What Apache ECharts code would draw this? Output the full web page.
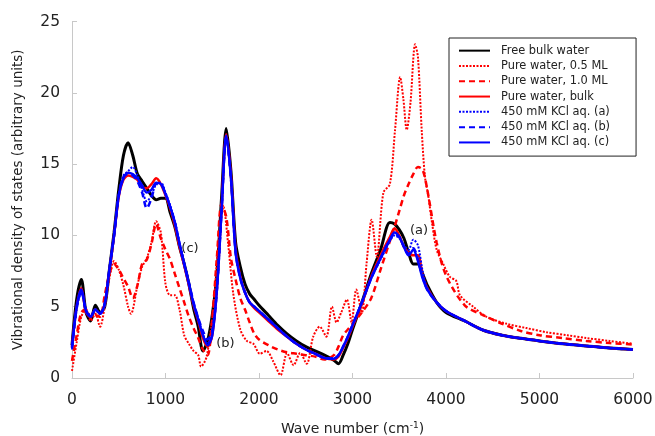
<!DOCTYPE html>
<html><head><meta charset="utf-8">
<script src="https://cdn.jsdelivr.net/npm/echarts@6/dist/echarts.min.js"></script>
<style>html,body{margin:0;padding:0;background:#fff}#c{width:655px;height:436px}</style>
</head><body><div id="c"></div>
<script>
const waveNumbers = [0,50,100,150,200,250,300,350,400,450,500,550,600,650,700,750,800,850,900,950,1000,1050,1100,1150,1200,1250,1300,1350,1400,1450,1500,1550,1600,1650,1700,1750,1800,1850,1900,1950,2000,2100,2200,2300,2400,2500,2600,2700,2800,2850,2900,2950,3000,3100,3200,3300,3400,3450,3500,3550,3600,3650,3700,3750,3800,3900,4000,4200,4400,4600,4800,5000,5250,5500,5750,6000];

const freeBulkWater = [2.3,5.5,6.9,4.6,4.0,5.1,4.6,5.0,7.6,10.2,
 13.2,15.6,16.5,15.6,14.3,13.8,13.3,12.8,12.5,12.6,
 12.6,11.6,10.6,9.2,8.0,6.6,4.9,3.6,1.9,2.6,
 4.4,7.3,12.7,17.5,14.5,9.5,7.8,6.6,5.9,5.5,
 5.1,4.4,3.7,3.1,2.6,2.2,1.9,1.6,1.25,
 1.0,1.6,2.4,
 3.4,5.3,7.3,9.0,10.9,
 10.8,10.4,9.8,8.8,8.0,8.0,7.3,6.5,
 5.3,4.6,
 4.0,3.35,3.0,2.78,2.6,
 2.4,2.25,2.1,2.0];

const pureBulk = [2.2,5.0,6.3,4.6,4.3,4.8,4.5,5.2,7.5,10.0,
 12.7,13.9,14.2,14.1,13.9,13.4,13.3,13.6,14.0,13.6,
 12.8,11.9,10.7,9.2,7.9,6.5,5.1,4.0,2.8,2.2,
 3.0,6.3,12.0,17.1,14.2,9.0,7.1,6.0,5.3,4.9,
 4.6,4.0,3.4,2.9,2.4,2.0,1.7,1.4,1.3,
 1.5,2.1,2.8,
 3.6,5.2,7.1,8.6,9.9,
 10.5,10.0,9.2,8.8,8.6,8.6,7.2,6.3,
 5.3,4.7,
 4.0,3.35,3.0,2.78,2.6,
 2.4,2.25,2.1,2.0];

const pure10ML = [1.2,3.0,4.6,4.8,4.2,4.4,4.3,5.8,7.3,8.0,
 7.6,7.0,6.4,5.6,6.5,8.0,8.3,9.4,10.8,9.8,
 9.0,8.3,7.3,6.3,5.3,4.3,3.5,2.8,2.0,1.6,
 4.2,8.5,12.2,11.3,8.4,6.9,5.6,4.8,3.9,3.1,
 2.7,2.3,2.0,1.8,1.7,1.6,1.5,1.3,1.6,
 2.2,3.0,3.4,
 3.8,4.6,5.6,7.6,9.6,
 10.6,11.7,12.8,13.6,14.3,14.8,14.6,13.2,
 9.5,7.2,
 5.1,4.4,3.8,3.3,3.0,
 2.8,2.6,2.45,2.35];

const kclA = [2.0,4.8,6.0,4.8,4.4,4.7,4.6,5.1,7.7,10.1,
 12.9,14.2,14.5,14.8,14.2,13.2,12.4,12.8,13.6,13.7,
 13.0,12.1,11.0,9.5,8.1,6.7,5.3,4.2,3.1,2.4,
 3.1,6.1,11.6,16.9,14.1,8.9,7.1,6.0,5.3,5.0,
 4.7,4.1,3.5,2.9,2.4,2.0,1.7,1.4,1.4,
 1.6,2.2,2.9,
 3.7,5.3,7.0,8.3,9.6,
 10.0,9.8,9.3,9.0,9.7,9.3,7.5,6.3,
 5.3,4.7,
 4.0,3.35,3.0,2.78,2.6,
 2.4,2.25,2.1,2.0];

const kclB = [2.1,4.9,6.1,4.7,4.3,4.8,4.5,5.2,7.6,10.0,
 12.8,14.1,14.3,14.2,13.8,13.0,11.9,12.6,13.6,13.6,
 12.9,12.0,10.9,9.4,8.0,6.7,5.3,4.2,3.3,2.7,
 3.3,6.2,11.7,16.9,14.0,8.8,7.0,6.0,5.3,5.0,
 4.7,4.1,3.5,2.9,2.4,2.0,1.7,1.4,1.35,
 1.6,2.2,2.9,
 3.7,5.3,7.0,8.4,9.7,
 10.1,9.9,9.2,8.7,9.1,8.3,7.1,6.2,
 5.3,4.7,
 4.0,3.35,3.0,2.78,2.6,
 2.4,2.25,2.1,2.0];

const kclC = [2.2,5.0,6.2,4.7,4.3,4.8,4.5,5.2,7.6,10.0,
 12.8,14.0,14.4,14.3,14.0,13.5,13.0,13.2,13.7,13.6,
 12.9,12.0,10.9,9.4,8.0,6.6,5.2,4.1,3.0,2.3,
 3.0,6.2,11.8,17.0,14.0,8.8,7.0,6.0,5.3,5.0,
 4.7,4.1,3.5,2.9,2.4,2.0,1.7,1.4,1.35,
 1.6,2.2,2.9,
 3.7,5.3,7.0,8.4,9.7,
 10.2,9.9,9.2,8.6,9.0,8.2,7.0,6.2,
 5.3,4.7,
 4.0,3.35,3.0,2.78,2.6,
 2.4,2.25,2.1,2.0];

const waveNumbers05 = [0,50,100,150,200,250,300,350,400,450,500,550,600,630,700,750,800,850,900,950,1000,1050,1100,1150,1200,1250,1300,1350,1380,1440,1510,1565,1620,1670,1725,1800,1870,1940,2010,2080,2150,2230,2300,2370,2440,2510,2580,2650,2720,2780,2830,2880,2940,2990,3040,3100,3150,3205,3260,3330,3400,3455,3510,3545,3580,3620,3670,3700,3740,3775,3810,3850,3900,3970,4040,4110,4150,4290,4430,4650,4860,5080,5300,5500,5750,6000];
const pure05ML = [0.5,2.5,4.3,4.8,4.0,4.5,3.6,5.0,7.0,8.2,7.6,6.5,5.0,4.5,6.5,7.8,8.4,9.5,11.0,10.2,6.6,5.8,5.8,4.8,3.0,2.4,1.9,1.6,0.8,1.5,4.8,9.4,12.0,9.4,5.9,3.4,2.6,2.4,1.7,1.9,1.2,0.2,1.75,0.9,1.75,1.0,2.9,3.6,2.9,5.0,3.9,4.6,5.5,3.9,6.2,4.6,8.0,11.1,8.5,13.0,13.6,17.4,21.1,19.5,17.4,19.3,23.4,22.5,17.4,14.1,12.8,10.9,9.0,8.0,7.1,6.8,5.8,5.0,4.3,3.8,3.5,3.2,3.0,2.8,2.6,2.4];

const seriesNames = ['Free bulk water','Pure water, 0.5 ML','Pure water, 1.0 ML','Pure water, bulk','450 mM KCl aq. (a)','450 mM KCl aq. (b)','450 mM KCl aq. (c)'];
const annotations = [{name:'(c)', coord:[1262,9.05]},{name:'(b)', coord:[1640,2.4]},{name:'(a)', coord:[3711,10.3]}];

function pairs(xs, ys){ return xs.map((x,i)=>[x, ys[i]]); }
const FONT = 'DejaVu Sans';
function line(name, xs, ys, color, type, width){
  return {name:name, type:'line', data:pairs(xs,ys), showSymbol:false, symbol:'none', smooth:0.3,
    lineStyle:{color:color, type:type, width:width}, itemStyle:{color:color}, animation:false};
}
const series = [
  line(seriesNames[0], waveNumbers, freeBulkWater, '#000000','solid',3),
  line(seriesNames[1], waveNumbers05, pure05ML, '#ff0000',[2,1.5],2),
  line(seriesNames[2], waveNumbers, pure10ML, '#ff0000',[6,4],2.5),
  line(seriesNames[3], waveNumbers, pureBulk, '#ff0000','solid',2.5),
  line(seriesNames[4], waveNumbers, kclA, '#0000ff',[2,1.5],2),
  line(seriesNames[5], waveNumbers, kclB, '#0000ff',[6,4],2.5),
  line(seriesNames[6], waveNumbers, kclC, '#0000ff','solid',2.5)
];
series[6].markPoint = {symbol:'circle', symbolSize:2, itemStyle:{color:'rgba(0,0,0,0)'}, animation:false, silent:true,
  label:{show:true, formatter:'{b}', position:'inside', color:'#222', fontFamily:FONT, fontSize:13},
  data: annotations.map(a=>({name:a.name, coord:a.coord}))};

const chart = echarts.init(document.getElementById('c'), null, {renderer:'canvas'});
chart.setOption({
  backgroundColor:'#ffffff',
  animation:false,
  grid:{left:72, right:22, top:21.5, bottom:58, containLabel:false, outerBoundsMode:'none'},
  legend:{data:seriesNames, orient:'vertical', left:449, top:38, itemWidth:31, itemHeight:10, itemGap:2,
    borderColor:'#222', borderWidth:1, padding:[6,26,7,9], borderRadius:0,
    itemStyle:{opacity:0},
    textStyle:{fontFamily:FONT, fontSize:11.4, color:'#222', lineHeight:13.3, padding:[0,0,0,6]}},
  xAxis:{type:'value', min:0, max:6000, interval:1000,
    name:'Wave number (cm{sup|-1})', nameLocation:'middle', nameGap:43,
    nameTextStyle:{fontFamily:FONT, fontSize:14, color:'#222', rich:{sup:{fontSize:9, verticalAlign:'top', padding:[0,0,7,0], fontFamily:FONT, color:'#222'}}},
    axisLine:{lineStyle:{color:'#c8c8c8', width:1}},
    axisTick:{inside:true, length:5, lineStyle:{color:'#c8c8c8'}},
    axisLabel:{fontFamily:FONT, fontSize:15.5, color:'#222', margin:14, formatter:function(v){return String(v);}},
    splitLine:{show:false}},
  yAxis:{type:'value', min:0, max:25, interval:5,
    name:'Vibrational density of states (arbitrary units)', nameLocation:'middle', nameGap:47,
    nameTextStyle:{fontFamily:FONT, fontSize:13.5, color:'#222'},
    axisLine:{show:true, lineStyle:{color:'#c8c8c8', width:1}},
    axisTick:{show:true, inside:true, length:5, lineStyle:{color:'#c8c8c8'}},
    axisLabel:{fontFamily:FONT, fontSize:15.5, color:'#222', margin:12},
    splitLine:{show:false}},
  series:series
});
</script></body></html>
